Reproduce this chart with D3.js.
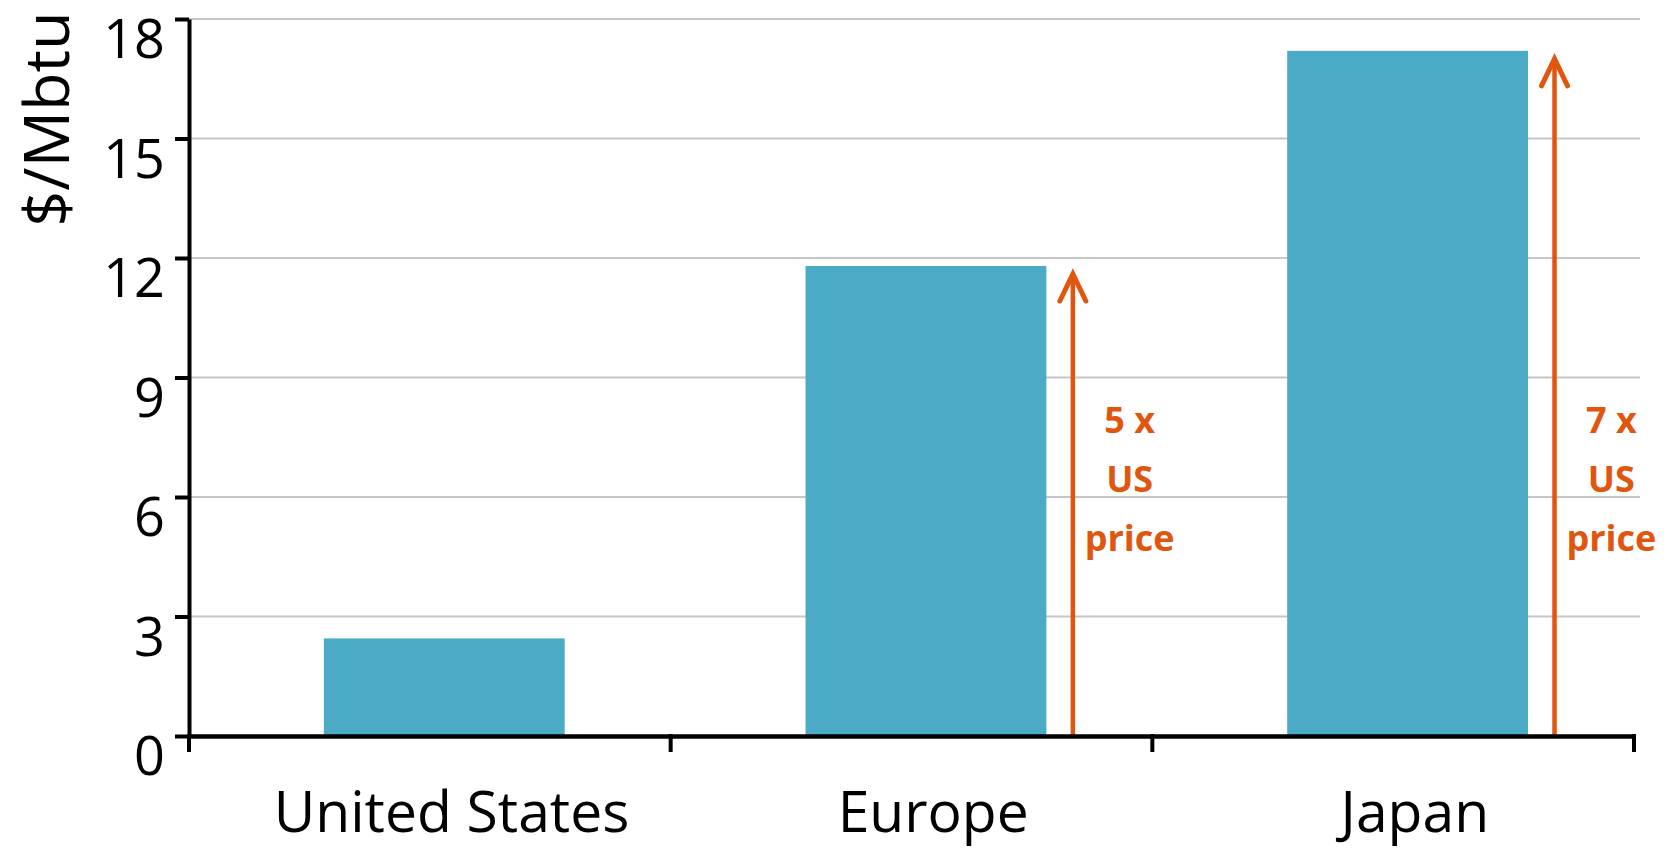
<!DOCTYPE html>
<html>
<head>
<meta charset="utf-8">
<script src="https://cdn.jsdelivr.net/npm/d3@7"></script>
<style>
  body { margin: 0; background: #fff; }
  svg { display: block; font-family: "Open Sans", sans-serif; }
</style>
</head>
<body>
<div class="chart"></div>
<script>
const categories = ["United States", "Europe", "Japan"];
const prices = [2.45, 11.8, 17.2];
const yTicks = [0, 3, 6, 9, 12, 15, 18];
// arrows next to the bars that are compared with the US price
const arrowCategories = ["Europe", "Japan"];
const arrowLabels = [["5 x", "US", "price"], ["7 x", "US", "price"]];

const svgWidth = 1675;
const svgHeight = 850;
const margin = { top: 19, right: 41, bottom: 114, left: 189 };
const chartWidth = svgWidth - margin.left - margin.right;
const chartHeight = svgHeight - margin.top - margin.bottom;

const barColor = "#4baac5";
const orange = "#e0560e";

const svg = d3.select(".chart")
  .append("svg")
  .attr("width", svgWidth)
  .attr("height", svgHeight);

const chart = svg.append("g")
  .attr("transform", `translate(${margin.left}, ${margin.top})`);

const x = d3.scaleBand().domain(categories).range([0, chartWidth]).padding(0);
const y = d3.scaleLinear().domain([0, 18]).range([chartHeight, 0]);
const bw = x.bandwidth();

// gridlines
chart.append("g")
  .selectAll("line")
  .data(yTicks.filter(d => d > 0))
  .enter().append("line")
    .attr("x1", 0)
    .attr("x2", chartWidth + 6)
    .attr("y1", d => y(d))
    .attr("y2", d => y(d))
    .attr("stroke", "#c6c6c6")
    .attr("stroke-width", 2);

// bars
const data = categories.map((c, i) => ({ cat: c, value: prices[i] }));
chart.selectAll("rect.bar")
  .data(data)
  .enter().append("rect")
    .attr("class", "bar")
    .attr("x", d => x(d.cat) + bw * 0.28)
    .attr("width", bw * 0.5)
    .attr("y", d => y(d.value))
    .attr("height", d => y(0) - y(d.value))
    .attr("fill", barColor);

// arrows
const arrows = arrowCategories.map((c, i) => ({
  cat: c,
  value: prices[categories.indexOf(c)],
  lines: arrowLabels[i]
}));

const arrowG = chart.selectAll("g.arrow")
  .data(arrows)
  .enter().append("g")
    .attr("class", "arrow");

arrowG.append("line")
  .attr("x1", d => x(d.cat) + bw * 0.835)
  .attr("x2", d => x(d.cat) + bw * 0.835)
  .attr("y1", y(0))
  .attr("y2", d => y(d.value) + 9)
  .attr("stroke", orange)
  .attr("stroke-width", 4.5);

arrowG.append("path")
  .attr("d", d => {
    let ax = x(d.cat) + bw * 0.835;
    let tip = y(d.value) + 8;
    return `M${ax - 13},${tip + 27}L${ax},${tip}L${ax + 13},${tip + 27}`;
  })
  .attr("fill", "none")
  .attr("stroke", orange)
  .attr("stroke-width", 5)
  .attr("stroke-linecap", "round");

arrowG.each(function(d) {
  d3.select(this).selectAll("text")
    .data(d.lines)
    .enter().append("text")
      .attr("x", x(d.cat) + bw * 0.953)
      .attr("y", (t, i) => 414 + i * 59)
      .attr("text-anchor", "middle")
      .attr("fill", orange)
      .style("font-size", "36px")
      .style("font-weight", "bold")
      .text(t => t);
});

// y axis
const leftAxis = d3.axisLeft(y)
  .tickValues(yTicks)
  .tickSize(14)
  .tickSizeOuter(0)
  .tickPadding(10);

const yAxisG = chart.append("g").call(leftAxis);
yAxisG.select(".domain").attr("stroke", "#000").attr("stroke-width", 4);
yAxisG.selectAll(".tick line").attr("stroke", "#000").attr("stroke-width", 4);
yAxisG.selectAll(".tick text")
  .attr("dy", "0.72em")
  .attr("fill", "#000")
  .style("font-size", "54px")
  .style("font-family", "'Open Sans', sans-serif");

// x axis
const bottomAxis = d3.axisBottom(x).tickSize(0).tickSizeOuter(0).tickPadding(56);
const xAxisG = chart.append("g")
  .attr("transform", `translate(0, ${chartHeight})`)
  .call(bottomAxis);
xAxisG.select(".domain").attr("stroke", "#000").attr("stroke-width", 4.5);
xAxisG.selectAll(".tick text")
  .attr("dx", bw * 0.045)
  .attr("fill", "#000")
  .style("font-size", "57px")
  .style("font-family", "'Open Sans', sans-serif");

// category boundary ticks
const bounds = categories.map(c => x(c)).concat([x.range()[1]]);
xAxisG.selectAll("line.bound")
  .data(bounds)
  .enter().append("line")
    .attr("class", "bound")
    .attr("x1", d => d)
    .attr("x2", d => d)
    .attr("y1", -2)
    .attr("y2", 16)
    .attr("stroke", "#000")
    .attr("stroke-width", 4);

// y axis title
svg.append("text")
  .attr("transform", "translate(69, 119) rotate(-90)")
  .attr("text-anchor", "middle")
  .attr("fill", "#000")
  .style("font-size", "63px")
  .text("$/Mbtu");
</script>
</body>
</html>
